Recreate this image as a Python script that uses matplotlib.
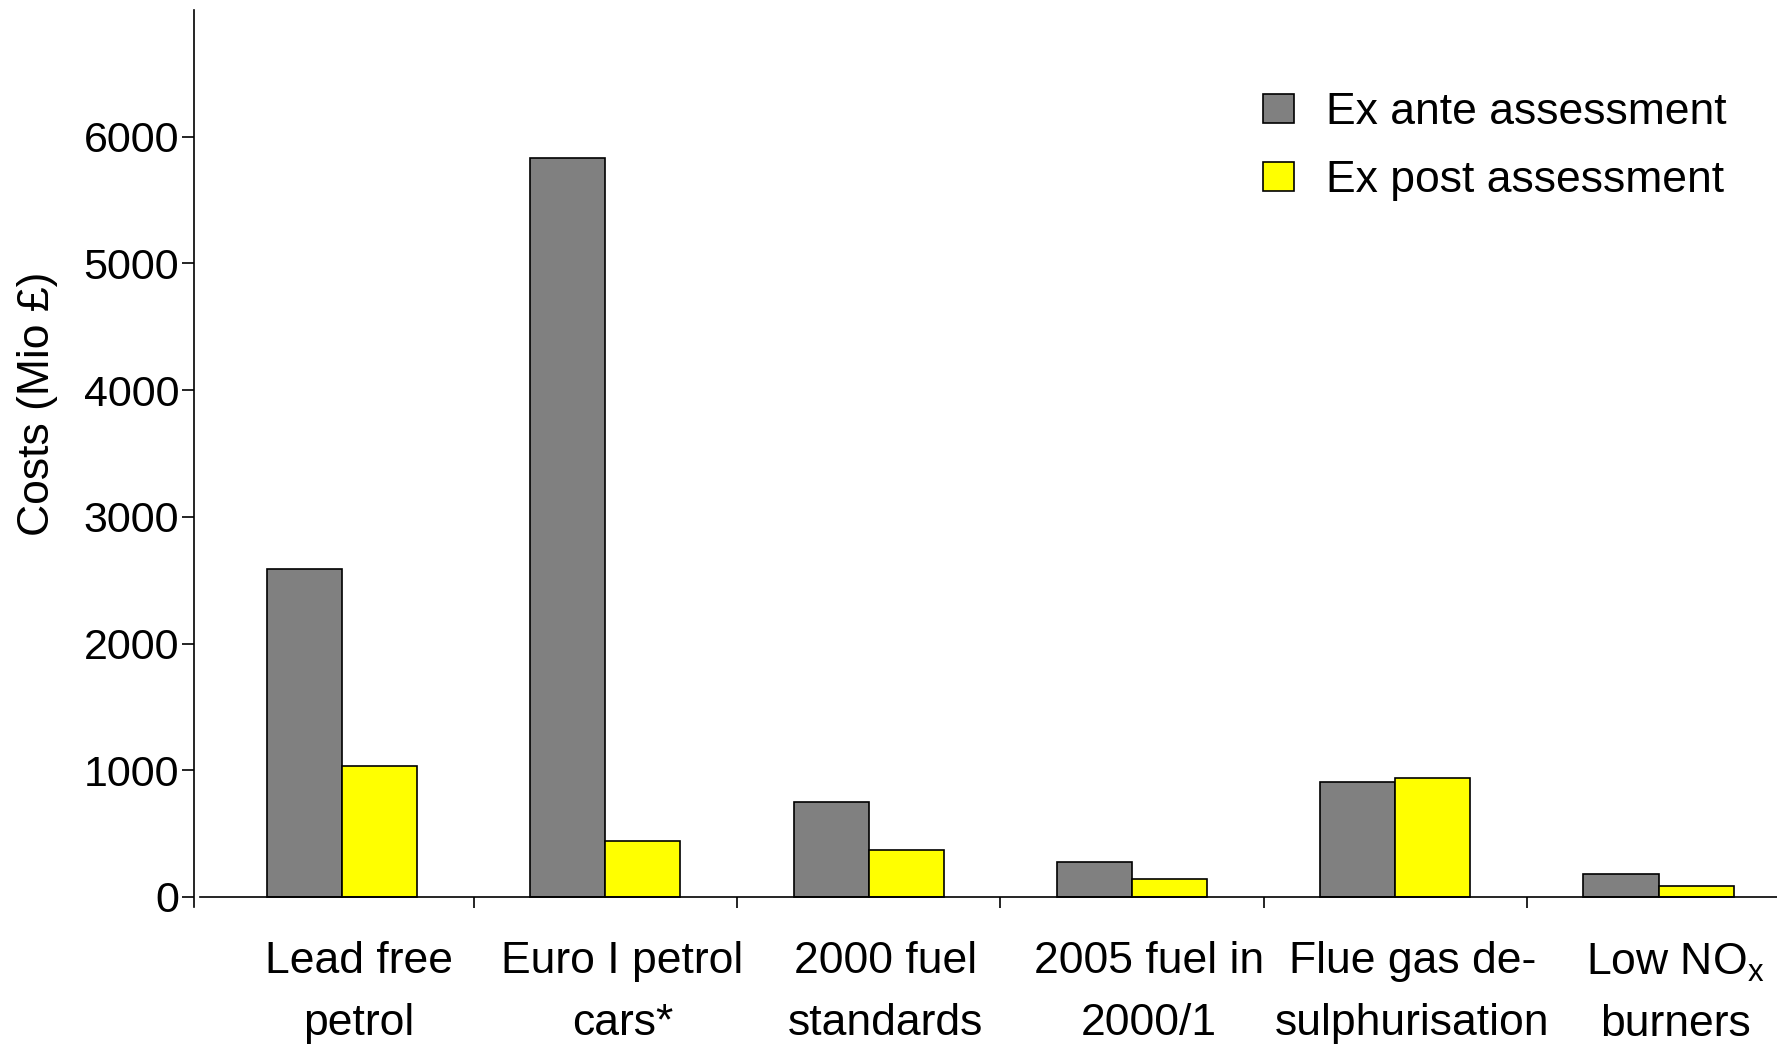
import matplotlib.pyplot as plt
import matplotlib.transforms as mtransforms
import numpy as np

plt.rcParams['font.family'] = ['Liberation Sans', 'DejaVu Sans']

# Data
categories = ["Lead free\npetrol", "Euro I petrol\ncars*", "2000 fuel\nstandards",
              "2005 fuel in\n2000/1", "Flue gas de-\nsulphurisation",
              "Low NO$_\\mathregular{x}$\nburners"]
ex_ante = [2590, 5830, 750, 275, 905, 178]
ex_post = [1035, 445, 370, 140, 940, 88]

x = np.arange(len(categories))
width = 0.285

fig = plt.figure(figsize=(17.77, 10.44), dpi=100)
ax = fig.add_axes([0.1125, 0.1312, 0.8875, 0.8592])

ax.bar(x - width / 2, ex_ante, width, color="#808080", edgecolor="black", linewidth=1.2,
       label="Ex ante assessment")
ax.bar(x + width / 2, ex_post, width, color="#ffff00", edgecolor="black", linewidth=1.2,
       label="Ex post assessment")

ax.set_xlim(-0.54, 5.45)
ax.set_ylim(-80, 7000)

# spines
ax.spines["top"].set_visible(False)
ax.spines["right"].set_visible(False)
ax.spines["bottom"].set_position(("data", 0))
ax.spines["left"].set_position(("outward", 4))
for s in ("left", "bottom"):
    ax.spines[s].set_linewidth(1.2)

# y ticks
ax.set_yticks(np.arange(0, 7000, 1000))
ax.tick_params(axis="y", direction="out", length=9, width=1.2, pad=2, labelsize=31)

# x ticks: category labels at centers, separator ticks between groups
ax.set_xticks(x)
ax.set_xticklabels(categories, fontsize=32, linespacing=1.65)
ax.tick_params(axis="x", which="major", length=0, pad=32)
shift = mtransforms.ScaledTranslation(0.17, 0, fig.dpi_scale_trans)
for lbl in ax.get_xticklabels():
    lbl.set_transform(lbl.get_transform() + shift)
ax.set_xticks(np.arange(0.5, 5, 1), minor=True)
ax.tick_params(axis="x", which="minor", direction="out", length=8, width=1.2)

fig.text(38 / 1777, 0.613, "Costs (Mio £)", rotation=90, ha="center", va="center", fontsize=32)

ax.legend(loc="upper right", bbox_to_anchor=(0.984, 0.933), bbox_transform=fig.transFigure,
          frameon=False, fontsize=32, handlelength=0.7, handleheight=0.62,
          handletextpad=0.72, labelspacing=0.6, borderpad=0)

fig.savefig("out.png", dpi=100)
